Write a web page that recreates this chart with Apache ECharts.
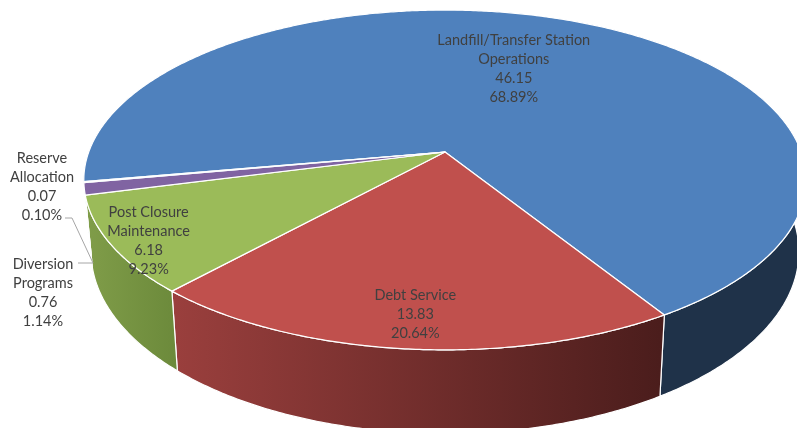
<!DOCTYPE html>
<html>
<head>
<meta charset="utf-8">
<script src="https://cdn.jsdelivr.net/npm/echarts@6/dist/echarts.min.js"></script>
<style>
html,body{margin:0;padding:0;background:#fff;}
#c{width:797px;height:428px;}
</style>
</head>
<body>
<div id="c"></div>
<script>
// ---- data ----
const categories = ['Landfill/Transfer Station Operations', 'Debt Service', 'Post Closure Maintenance', 'Diversion Programs', 'Reserve Allocation'];
const labelNames = ['Landfill/Transfer Station\nOperations', 'Debt Service', 'Post Closure\nMaintenance', 'Diversion\nPrograms', 'Reserve\nAllocation'];
const values = [46.15, 13.83, 6.18, 0.76, 0.07];
const percents = ['68.89%', '20.64%', '9.23%', '1.14%', '0.10%'];

// ---- styles ----
const topColors = ['#4F81BD', '#C0504D', '#9BBB59', '#8064A2', '#4BACC6'];
const wallColors = [
  '#1F3249',
  {type:'linear', x:175, y:0, x2:660, y2:0, global:true, colorStops:[{offset:0,color:'#9A3F3D'},{offset:1,color:'#4B1D1C'}]},
  {type:'linear', x:85, y:0, x2:175, y2:0, global:true, colorStops:[{offset:0,color:'#809D49'},{offset:1,color:'#6C8A3B'}]},
  '#5E4A78',
  '#2F7F95'
];
// label placement: inside labels use radius fraction (+ small nudge); outside ones use fixed anchor
const labelCfg = [
  {r:0.6, dx:-11, dy:0}, {r:0.85, dx:2, dy:0}, {r:0.9, dx:1, dy:6},
  {x:43, y:293}, {x:42, y:187}
];

// ---- projection parameters (perspective tilted disk) ----
const P = {cx:445, cy:152, D:6.08, k:2166, k2:1005, h:70, shrink:0.98, start:170};
function proj(tDeg, r, drop){
  const t = tDeg*Math.PI/180;
  const X = r*Math.cos(t), Z = r*Math.sin(t);
  const s = 1/(P.D - Z);
  let x = P.cx + P.k*X*s, y = P.cy + P.k2*Z*s;
  if (drop){ x = P.cx + (x-P.cx)*P.shrink; y += P.h*P.D*s; }
  return [x, y];
}
function arc(a0, a1, r, drop){
  const pts = [];
  const n = Math.max(2, Math.ceil(Math.abs(a1-a0)/0.5));
  for (let i=0;i<=n;i++) pts.push(proj(a0+(a1-a0)*i/n, r, drop));
  return pts;
}

const total = values.reduce((a,b)=>a+b,0);
const angles = [];
let acc = P.start;
values.forEach(v=>{ const span = v/total*360; angles.push([acc, acc+span]); acc += span; });

function renderItem(params, api){
  const i = params.dataIndex;
  const v = api.value(1);
  const [a0, a1] = angles[i];
  const children = [];
  // outer walls (visible front part)
  for (let n=0;n<2;n++){
    const lo = Math.max(a0, -10+360*n), hi = Math.min(a1, 190+360*n);
    if (hi > lo){
      const top = arc(lo, hi, 1, false);
      const bot = arc(lo, hi, 1, true).reverse();
      children.push({type:'polygon', z2:1, shape:{points: top.concat(bot)},
        style:{fill: wallColors[i], stroke:'#ffffff', lineWidth:1.2, lineJoin:'round'}});
    }
  }
  // top face
  const pts = [[P.cx, P.cy]].concat(arc(a0, a1, 1, false));
  children.push({type:'polygon', z2:10, shape:{points:pts},
    style:{fill: topColors[i], stroke:'#ffffff', lineWidth:1.2, lineJoin:'round'}});
  // label
  const txt = labelNames[i] + '\n' + v.toFixed(2) + '\n' + percents[i];
  let lx, ly;
  const c = labelCfg[i];
  if (c.r !== undefined){ [lx, ly] = proj((a0+a1)/2, c.r, false); lx += c.dx; ly += c.dy; }
  else { lx = c.x; ly = c.y; }
  children.push({type:'text', z2:30, x:lx, y:ly,
    style:{text: txt, fill:'#404040', font:'14.5px Lato', lineHeight:19, align:'center', verticalAlign:'middle'}});
  return {type:'group', children};
}

const chart = echarts.init(document.getElementById('c'), null, {renderer:'canvas'});
chart.setOption({
  animation:false,
  backgroundColor:'#ffffff',
  series:[{
    type:'custom',
    coordinateSystem:'none',
    renderItem: renderItem,
    data: values.map((v,i)=>({name: categories[i], value:[i, v]}))
  }],
  graphic:[{
    type:'polyline', z:100,
    shape:{points:[[65,218],[72,218],[93,263],[78,263]]},
    style:{stroke:'#A6A6A6', lineWidth:1, fill:null}
  }]
});
</script>
</body>
</html>
